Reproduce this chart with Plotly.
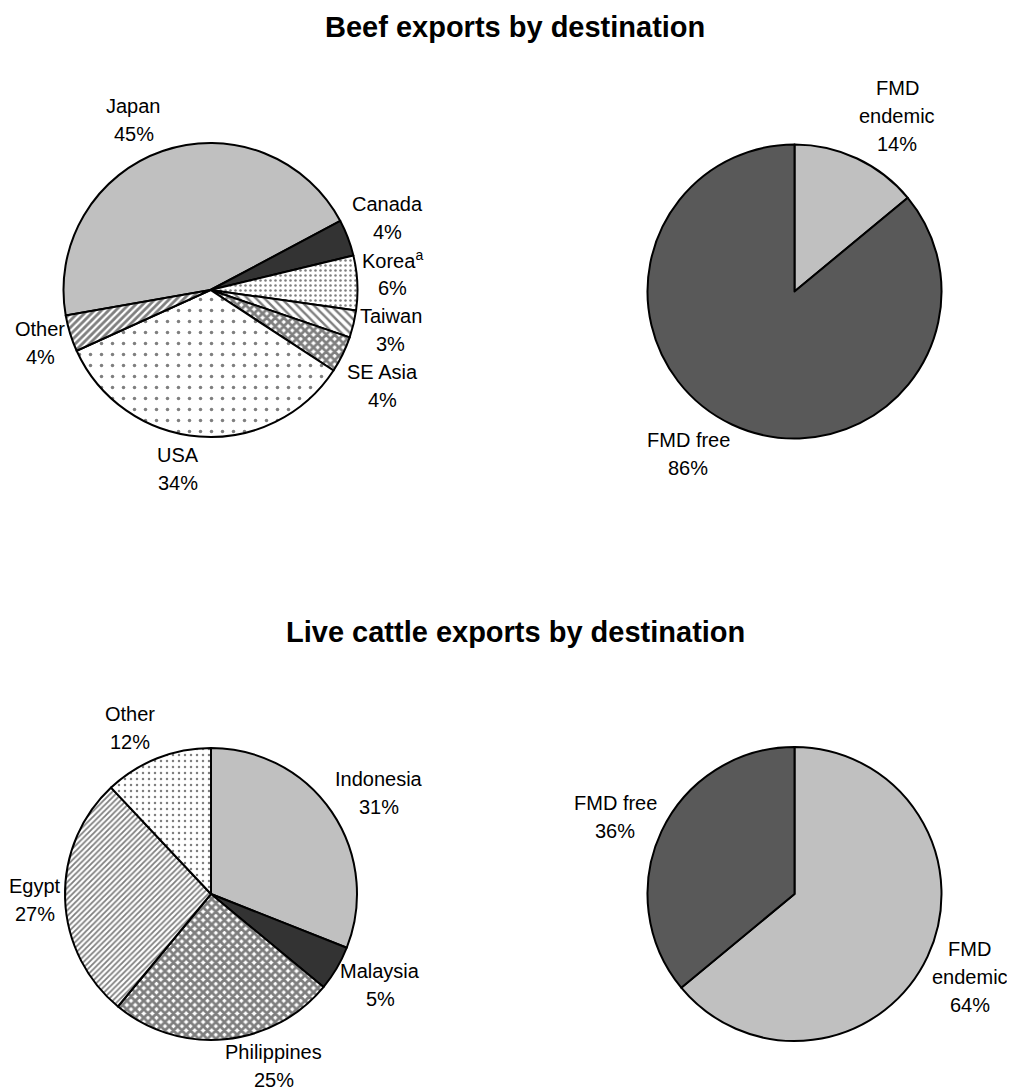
import math
import re
import plotly.graph_objects as go

# ---------------- Data ----------------
beef_labels = ["Japan", "Canada", "Korea<sup>a</sup>", "Taiwan", "SE Asia", "USA", "Other"]
beef_values = [45, 4, 6, 3, 4, 34, 4]
beef_fmd_labels = ["FMD<br>endemic", "FMD free"]
beef_fmd_values = [14, 86]
live_labels = ["Indonesia", "Malaysia", "Philippines", "Egypt", "Other"]
live_values = [31, 5, 25, 27, 12]
live_fmd_labels = ["FMD<br>endemic", "FMD free"]
live_fmd_values = [64, 36]

titles = ["Beef exports by destination", "Live cattle exports by destination"]

# ---------------- Style / layout ----------------
# The page body has an 8px margin; the figure fills the rest of the window.
W, H = 1007, 1082
FONT = "Liberation Sans, Arial, sans-serif"
LABEL_FS = 20
LINE_H = 28
TITLE_FS = 29
LIGHT = "#c0c0c0"
DARK = "#333333"
FMDDARK = "#595959"
GAP = 5
EDGE = 10

# Arial advance widths (per 1000 em) for label width estimates
AW = {" ": 278, "%": 889, "A": 667, "C": 722, "D": 722, "E": 667, "F": 611, "I": 278,
      "J": 500, "K": 667, "M": 833, "O": 778, "P": 667, "S": 667, "T": 611, "U": 722,
      "a": 556, "c": 500, "d": 556, "e": 556, "f": 278, "g": 556, "h": 556, "i": 222,
      "l": 222, "m": 833, "n": 556, "o": 556, "p": 556, "r": 333, "s": 500, "t": 278,
      "w": 722, "y": 500}


def text_width(line, fs):
    sup = re.findall(r"<sup>(.*?)</sup>", line)
    base = re.sub(r"<sup>.*?</sup>", "", line)
    w = sum(AW.get(ch, 556) for ch in base) * fs / 1000.0
    w += sum(AW.get(ch, 556) for s in sup for ch in s) * fs * 0.7 / 1000.0
    return w


def dom(cx, cy, r):
    return dict(x=[(cx - r) / W, (cx + r) / W], y=[(H - cy - r) / H, (H - cy + r) / H])


def spread(items):
    # items: list of dicts with 'y' and 'n' (lines); resolve vertical overlaps
    items = sorted(items, key=lambda d: d["y"])
    clusters = [[it] for it in items]

    def place(cl):
        hs = [it["n"] * LINE_H for it in cl]
        total = sum(hs)
        mean = sum(it["y"] for it in cl) / len(cl)
        top = mean - total / 2.0
        out = []
        for it, h in zip(cl, hs):
            out.append(top + h / 2.0)
            top += h
        return out

    changed = True
    while changed:
        changed = False
        for k in range(len(clusters) - 1):
            a, b = clusters[k], clusters[k + 1]
            pa, pb = place(a), place(b)
            if pa[-1] + a[-1]["n"] * LINE_H / 2.0 > pb[0] - b[0]["n"] * LINE_H / 2.0 + 1e-6:
                clusters[k] = a + b
                del clusters[k + 1]
                changed = True
                break
    for cl in clusters:
        if len(cl) > 1:
            for it, y in zip(cl, place(cl)):
                it["y"] = y


def label_annotations(labels, values, rotation, cx, cy, r):
    total = float(sum(values))
    start = rotation
    items = []
    for lab, v in zip(labels, values):
        span = v / total * 360.0
        mid = math.radians(start + span / 2.0)
        start += span
        s, c = math.sin(mid), math.cos(mid)
        lines = lab.split("<br>") + ["%d%%" % v]
        w = max(text_width(l, LABEL_FS) for l in lines)
        h = len(lines) * LINE_H
        px = cx + (r + GAP) * s
        py = cy - (r + GAP) * c
        side = 1 if s >= 0 else -1
        items.append(dict(lines=lines, n=len(lines), x=px + side * w / 2.0,
                          y=py - c * h / 2.0, side=side))
    for side in (1, -1):
        spread([it for it in items if it["side"] == side])
    anns = []
    for it in items:
        n = it["n"]
        # keep the label block inside the figure
        ymax = H - EDGE - (n - 1) / 2.0 * LINE_H
        ymin = EDGE + (n - 1) / 2.0 * LINE_H
        yc = min(max(it["y"], ymin), ymax)
        for i, l in enumerate(it["lines"]):
            yy = yc + (i - (n - 1) / 2.0) * LINE_H
            anns.append(dict(
                text=l, x=it["x"] / W, y=1 - yy / H, xref="paper", yref="paper",
                showarrow=False, xanchor="center", yanchor="middle", align="center",
                font=dict(family=FONT, size=LABEL_FS, color="black"),
            ))
    return anns


line = dict(color="black", width=2)
common = dict(
    sort=False,
    direction="clockwise",
    textinfo="none",
    showlegend=False,
    hoverinfo="label+value",
)

pies = [
    # labels, values, rotation, cx, cy, r   (figure pixel coords)
    (beef_labels, beef_values, -100, 202.5, 282, 147),
    (beef_fmd_labels, beef_fmd_values, 0, 786.5, 283.5, 147),
    (live_labels, live_values, 0, 203, 886, 146),
    (live_fmd_labels, live_fmd_values, 0, 786.5, 886, 147),
]

fig = go.Figure()

lab, val, rot, cx, cy, r = pies[0]
fig.add_trace(go.Pie(
    labels=lab, values=val, rotation=rot, domain=dom(cx, cy, r),
    marker=dict(
        colors=[LIGHT, DARK, "white", "white", "white", "white", "white"],
        line=line,
        pattern=dict(
            shape=["", "", ".", "\\", "x", ".", "/"],
            fgcolor=["black"] * 7,
            bgcolor=[LIGHT, DARK, "white", "white", "white", "white", "white"],
            size=[8, 8, 5, 6, 6, 11, 5],
            solidity=[0.2, 0.2, 0.2, 0.4, 0.72, 0.08, 0.55],
            fillmode="overlay",
        ),
    ),
    **common,
))

lab, val, rot, cx, cy, r = pies[1]
fig.add_trace(go.Pie(
    labels=lab, values=val, rotation=rot, domain=dom(cx, cy, r),
    marker=dict(colors=[LIGHT, FMDDARK], line=line),
    **common,
))

lab, val, rot, cx, cy, r = pies[2]
fig.add_trace(go.Pie(
    labels=lab, values=val, rotation=rot, domain=dom(cx, cy, r),
    marker=dict(
        colors=[LIGHT, DARK, "white", "white", "white"],
        line=line,
        pattern=dict(
            shape=["", "", "x", "/", "."],
            fgcolor=["black"] * 5,
            bgcolor=[LIGHT, DARK, "white", "white", "white"],
            size=[8, 8, 6, 4, 6],
            solidity=[0.2, 0.2, 0.72, 0.45, 0.14],
            fillmode="overlay",
        ),
    ),
    **common,
))

lab, val, rot, cx, cy, r = pies[3]
fig.add_trace(go.Pie(
    labels=lab, values=val, rotation=rot, domain=dom(cx, cy, r),
    marker=dict(colors=[LIGHT, FMDDARK], line=line),
    **common,
))

annotations = []
for p in pies:
    annotations += label_annotations(*p)

annotations += [
    dict(text="<b>%s</b>" % titles[0], x=507 / W, y=1 - 19 / H, xref="paper", yref="paper",
         showarrow=False, font=dict(family=FONT, size=TITLE_FS, color="black"),
         xanchor="center", yanchor="middle"),
    dict(text="<b>%s</b>" % titles[1], x=507 / W, y=1 - 624 / H, xref="paper", yref="paper",
         showarrow=False, font=dict(family=FONT, size=TITLE_FS, color="black"),
         xanchor="center", yanchor="middle"),
]

fig.update_layout(
    width=W, height=H,
    margin=dict(l=0, r=0, t=0, b=0),
    paper_bgcolor="white",
    plot_bgcolor="white",
    font=dict(family=FONT, color="black"),
    annotations=annotations,
)

fig.write_html("out.html")
